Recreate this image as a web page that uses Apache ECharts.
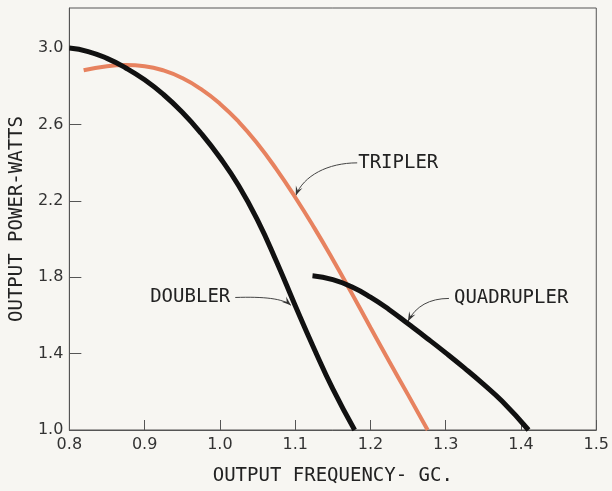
<!DOCTYPE html>
<html>
<head>
<meta charset="utf-8">
<script src="https://cdn.jsdelivr.net/npm/echarts@6/dist/echarts.min.js"></script>
<style>
  html, body { margin: 0; padding: 0; background: #f7f6f2; }
  #main { width: 612px; height: 491px; }
</style>
</head>
<body>
<div id="main"></div>
<script>
// Axis ticks
const xTicks = [0.8, 0.9, 1.0, 1.1, 1.2, 1.3, 1.4, 1.5];
const yTicks = [1.0, 1.4, 1.8, 2.2, 2.6, 3.0];

// Output power (watts) vs output frequency (GC) for each multiplier
const doublerFreq  = [0.800, 0.825, 0.850, 0.875, 0.900, 0.925, 0.950, 0.975, 1.000, 1.025, 1.050, 1.075, 1.100, 1.125, 1.150, 1.179];
const doublerPower = [3.000, 2.982, 2.946, 2.896, 2.834, 2.757, 2.664, 2.554, 2.427, 2.279, 2.099, 1.884, 1.652, 1.427, 1.215, 1.000];

const triplerFreq  = [0.819, 0.850, 0.875, 0.900, 0.925, 0.950, 0.975, 1.000, 1.025, 1.050, 1.075, 1.100, 1.125, 1.150, 1.175, 1.200, 1.225, 1.250, 1.276];
const triplerPower = [2.884, 2.905, 2.911, 2.905, 2.883, 2.843, 2.785, 2.709, 2.614, 2.499, 2.366, 2.219, 2.061, 1.893, 1.717, 1.537, 1.359, 1.184, 1.000];

const quadFreq  = [1.123, 1.150, 1.175, 1.200, 1.225, 1.250, 1.275, 1.300, 1.325, 1.350, 1.375, 1.410];
const quadPower = [1.808, 1.788, 1.750, 1.696, 1.630, 1.556, 1.481, 1.404, 1.324, 1.240, 1.150, 1.000];

const pairs = (xs, ys) => xs.map((x, i) => [x, ys[i]]);

const LABEL_FONT = 'DejaVu Sans Mono';
const TEXT_COLOR = '#222';
const AXIS_COLOR = '#555';

const chart = echarts.init(document.getElementById('main'), null, { renderer: 'canvas' });

const curve = (name, xs, ys, color, width, z) => ({
  name, type: 'line', data: pairs(xs, ys),
  smooth: 0.5, symbol: 'none', z,
  lineStyle: { color, width }
});

const option = {
  backgroundColor: '#f7f6f2',
  animation: false,
  grid: {
    left: 63, right: 9, top: 8, bottom: 56,
    show: true, borderColor: AXIS_COLOR, borderWidth: 1, backgroundColor: 'transparent'
  },
  xAxis: {
    type: 'value', min: 0.8, max: 1.5,
    name: 'OUTPUT FREQUENCY- GC.',
    nameLocation: 'middle', nameGap: 37,
    nameTextStyle: { fontFamily: LABEL_FONT, fontSize: 19, color: TEXT_COLOR },
    axisLine: { show: true, lineStyle: { color: AXIS_COLOR, width: 1 } },
    axisTick: { show: true, inside: true, length: 10, customValues: xTicks, lineStyle: { color: AXIS_COLOR } },
    axisLabel: {
      customValues: xTicks, formatter: v => Number(v).toFixed(1),
      fontFamily: 'DejaVu Sans', fontSize: 16, color: '#333', margin: 7
    },
    splitLine: { show: false }
  },
  yAxis: {
    type: 'value', min: 1.0, max: 3.21,
    name: 'OUTPUT POWER-WATTS',
    nameLocation: 'middle', nameGap: 41, nameRotate: 90,
    nameTextStyle: { fontFamily: LABEL_FONT, fontSize: 19, color: TEXT_COLOR },
    axisLine: { show: true, lineStyle: { color: AXIS_COLOR, width: 1 } },
    axisTick: { show: true, inside: true, length: 12, customValues: yTicks, lineStyle: { color: AXIS_COLOR } },
    axisLabel: {
      customValues: yTicks, formatter: v => Number(v).toFixed(1),
      fontFamily: 'DejaVu Sans', fontSize: 16, color: '#333', margin: 6
    },
    splitLine: { show: false }
  },
  series: [
    curve('TRIPLER', triplerFreq, triplerPower, '#e7825f', 4, 2),
    curve('DOUBLER', doublerFreq, doublerPower, '#111', 5, 3),
    curve('QUADRUPLER', quadFreq, quadPower, '#111', 5, 3)
  ]
};
chart.setOption(option);

// Curve labels with curved leader arrows, placed in data coordinates
const annotations = [
  { text: 'TRIPLER', side: 'right', tail: [1.1824, 2.399], c1: [1.1435, 2.399], c2: [1.1111, 2.332], tip: [1.1008, 2.228] },
  { text: 'DOUBLER', side: 'left', tail: [1.0204, 1.694], c1: [1.058, 1.699], c2: [1.0838, 1.689], tip: [1.0943, 1.653] },
  { text: 'QUADRUPLER', side: 'right', tail: [1.3043, 1.689], c1: [1.2784, 1.689], c2: [1.2602, 1.648], tip: [1.2498, 1.570] }
];

const toPx = p => chart.convertToPixel({ gridIndex: 0 }, p);
const graphics = [];
annotations.forEach(a => {
  const t = toPx(a.tail), p1 = toPx(a.c1), p2 = toPx(a.c2), tip = toPx(a.tip);
  graphics.push({
    type: 'bezierCurve', silent: true,
    shape: { x1: t[0], y1: t[1], cpx1: p1[0], cpy1: p1[1], cpx2: p2[0], cpy2: p2[1], x2: tip[0], y2: tip[1] },
    style: { stroke: '#444', lineWidth: 1, fill: null }
  });
  // arrowhead along the final tangent
  let dx = tip[0] - p2[0], dy = tip[1] - p2[1];
  const len = Math.hypot(dx, dy); dx /= len; dy /= len;
  const L = 10, ang = 0.36;
  const rot = (x, y, a) => [x * Math.cos(a) - y * Math.sin(a), x * Math.sin(a) + y * Math.cos(a)];
  const b1 = rot(-dx * L, -dy * L, ang), b2 = rot(-dx * L, -dy * L, -ang);
  graphics.push({
    type: 'polygon', silent: true,
    shape: { points: [
      [tip[0], tip[1]],
      [tip[0] + b1[0], tip[1] + b1[1]],
      [tip[0] - dx * L * 0.55, tip[1] - dy * L * 0.55],
      [tip[0] + b2[0], tip[1] + b2[1]]
    ] },
    style: { fill: '#333' }
  });
  graphics.push({
    type: 'text', silent: true,
    x: a.side === 'right' ? t[0] + (a.text === 'TRIPLER' ? 1 : 5) : t[0] - 5,
    y: t[1],
    style: {
      text: a.text, fill: TEXT_COLOR,
      font: '19px "' + LABEL_FONT + '"',
      textAlign: a.side === 'right' ? 'left' : 'right',
      textVerticalAlign: 'middle'
    }
  });
});
chart.setOption({ graphic: graphics });
</script>
</body>
</html>
